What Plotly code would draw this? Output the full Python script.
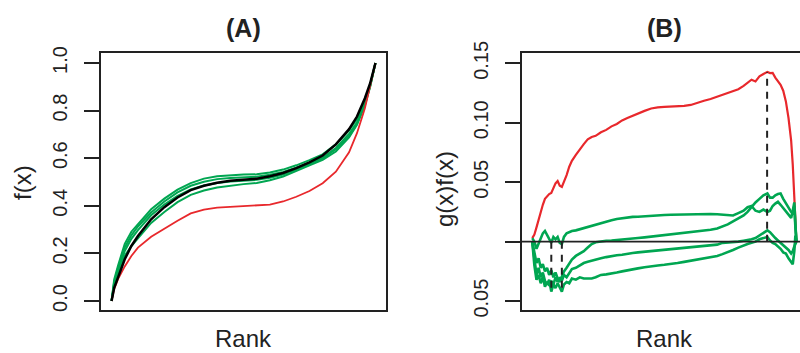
import plotly.graph_objects as go

# ---------------- data: panel (A) ----------------
rank_a = [0, 10, 25, 50, 75, 100, 150, 200, 250, 300, 350, 400, 450, 500, 550,
          600, 650, 700, 750, 800, 850, 900, 930, 960, 980, 1000]
black_a = [0, 0.055, 0.100, 0.175, 0.231, 0.273, 0.343, 0.394, 0.435, 0.466, 0.484,
           0.497, 0.505, 0.510, 0.514, 0.524, 0.538, 0.558, 0.582, 0.611, 0.658,
           0.722, 0.775, 0.852, 0.915, 1.0]
red_a = [0, 0.050, 0.093, 0.145, 0.189, 0.224, 0.270, 0.305, 0.337, 0.368, 0.384,
         0.392, 0.396, 0.399, 0.401, 0.405, 0.418, 0.438, 0.462, 0.495, 0.543,
         0.625, 0.705, 0.810, 0.905, 1.0]
green1_a = [0, 0.090, 0.150, 0.240, 0.291, 0.323, 0.385, 0.430, 0.468, 0.495, 0.514,
            0.524, 0.529, 0.531, 0.532, 0.540, 0.552, 0.570, 0.592, 0.616, 0.658,
            0.717, 0.765, 0.842, 0.910, 1.0]
green2_a = [0, 0.080, 0.140, 0.225, 0.276, 0.313, 0.372, 0.418, 0.456, 0.484, 0.501,
            0.512, 0.517, 0.520, 0.522, 0.530, 0.542, 0.560, 0.582, 0.603, 0.643,
            0.702, 0.750, 0.832, 0.905, 1.0]
green3_a = [0, 0.070, 0.125, 0.210, 0.261, 0.298, 0.360, 0.405, 0.442, 0.469, 0.485,
            0.496, 0.502, 0.506, 0.509, 0.518, 0.531, 0.552, 0.577, 0.599, 0.638,
            0.692, 0.745, 0.827, 0.903, 1.0]
green4_a = [0, 0.065, 0.115, 0.190, 0.231, 0.263, 0.328, 0.374, 0.415, 0.446, 0.464,
            0.477, 0.485, 0.491, 0.496, 0.507, 0.523, 0.545, 0.570, 0.593, 0.628,
            0.687, 0.740, 0.822, 0.900, 1.0]

# ---------------- data: panel (B) ----------------
rank_b = [0, 8, 16, 24, 32, 40, 48, 56, 64, 72,
          80, 88, 96, 104, 112, 120, 130, 140, 150, 165,
          180, 195, 210, 225, 240, 260, 280, 300, 320, 340,
          360, 380, 400, 425, 450, 475, 500, 525, 550, 575,
          600, 625, 650, 675, 700, 720, 740, 760, 780, 800,
          815, 830, 845, 860, 875, 890, 900, 910, 920, 930,
          940, 950, 960, 970, 980, 986, 992, 996, 1000]
red_b = [0.003, 0.006, 0.012, 0.019, 0.024, 0.031, 0.036, 0.038, 0.040, 0.041,
         0.045, 0.049, 0.051, 0.047, 0.046, 0.050, 0.056, 0.063, 0.068, 0.073,
         0.078, 0.082, 0.086, 0.088, 0.089, 0.092, 0.094, 0.097, 0.099, 0.102,
         0.104, 0.106, 0.108, 0.110, 0.112, 0.113, 0.1133, 0.1135, 0.1137, 0.1142,
         0.115, 0.117, 0.1185, 0.1200, 0.1220, 0.1235, 0.1250, 0.1268, 0.1282, 0.1310,
         0.1340, 0.1362, 0.1348, 0.1390, 0.1410, 0.1428, 0.1418, 0.1420, 0.1380, 0.1345,
         0.1320, 0.1270, 0.1180, 0.1040, 0.0850, 0.0650, 0.0400, 0.0200, 0.0]
green1_b = [0.003, 0.000, -0.006, -0.002, 0.003, 0.007, 0.009, 0.006, 0.003, -0.001,
            0.004, 0.002, 0.004, -0.001, -0.002, 0.004, 0.007, 0.008, 0.009, 0.0095,
            0.0105, 0.011, 0.012, 0.013, 0.014, 0.0155, 0.0167, 0.018, 0.019, 0.0198,
            0.0203, 0.0208, 0.021, 0.0215, 0.022, 0.0222, 0.0224, 0.0226, 0.0228, 0.0228,
            0.023, 0.0232, 0.023, 0.0232, 0.023, 0.0225, 0.022, 0.022, 0.024, 0.026,
            0.029, 0.030, 0.026, 0.025, 0.027, 0.025, 0.026, 0.030, 0.032, 0.0335,
            0.031, 0.028, 0.025, 0.023, 0.020, 0.026, 0.033, 0.015, 0.0]
green2_b = [0.0, -0.010, -0.018, -0.014, -0.022, -0.019, -0.025, -0.022, -0.028, -0.024,
            -0.030, -0.026, -0.031, -0.034, -0.029, -0.025, -0.022, -0.018, -0.015, -0.012,
            -0.010, -0.008, -0.005, -0.002, -0.0005, 0.0003, 0.0008, 0.001, 0.0013, 0.0018,
            0.0022, 0.0026, 0.003, 0.0036, 0.0042, 0.005, 0.0058, 0.0065, 0.007, 0.0075,
            0.008, 0.0085, 0.009, 0.010, 0.011, 0.0125, 0.0145, 0.017, 0.0195, 0.022,
            0.025, 0.029, 0.033, 0.036, 0.039, 0.0405, 0.037, 0.037, 0.039, 0.040,
            0.0405, 0.036, 0.032, 0.029, 0.025, 0.024, 0.030, 0.012, 0.0]
green3_b = [0.0, -0.015, -0.028, -0.022, -0.030, -0.026, -0.033, -0.036, -0.032, -0.042,
            -0.035, -0.030, -0.034, -0.030, -0.033, -0.028, -0.030, -0.027, -0.023, -0.022,
            -0.020, -0.018, -0.017, -0.016, -0.015, -0.014, -0.013, -0.012, -0.0115, -0.011,
            -0.010, -0.0095, -0.009, -0.0085, -0.008, -0.007, -0.0065, -0.006, -0.0055, -0.005,
            -0.0045, -0.004, -0.0035, -0.003, -0.0025, -0.001, -0.0008, -0.0003, 0.0, 0.0008,
            0.0013, 0.002, 0.003, 0.005, 0.007, 0.0095, 0.008, 0.005, 0.003, 0.001,
            -0.001, -0.003, -0.005, -0.007, -0.010, -0.008, -0.004, -0.002, 0.0]
green4_b = [0.0, -0.020, -0.032, -0.028, -0.035, -0.030, -0.038, -0.034, -0.037, -0.033,
            -0.036, -0.039, -0.035, -0.038, -0.042, -0.036, -0.034, -0.035, -0.031, -0.032,
            -0.030, -0.031, -0.031, -0.031, -0.030, -0.028, -0.0275, -0.027, -0.026, -0.025,
            -0.024, -0.023, -0.0225, -0.0215, -0.0205, -0.020, -0.0195, -0.019, -0.018, -0.017,
            -0.016, -0.015, -0.014, -0.013, -0.012, -0.0105, -0.009, -0.007, -0.005, -0.003,
            -0.002, -0.001, 0.0, 0.002, 0.003, 0.004, 0.001, -0.001, -0.002, -0.004,
            -0.006, -0.009, -0.010, -0.014, -0.017, -0.019, -0.008, 0.005, 0.0]

# dashed "maximum deviation" segments in (B)
dash_rank = [72, 112, 889]
dash_from = [0.0, 0.0, 0.0]
dash_to = [-0.042, -0.042, 0.1428]

ticks_a = [0.0, 0.2, 0.4, 0.6, 0.8, 1.0]
ticklabels_a = ["0.0", "0.2", "0.4", "0.6", "0.8", "1.0"]
ticks_b = [-0.05, 0.0, 0.05, 0.10, 0.15]
ticklabels_b = ["0.05", "", "0.05", "0.10", "0.15"]

RED = "#E8282C"
GREEN = "#00A651"
INK = "#222222"
FONT = "Liberation Sans, Arial, sans-serif"
W, H = 800, 353

fig = go.Figure()

# panel A
for g in [green1_a, green2_a, green3_a, green4_a]:
    fig.add_trace(go.Scatter(x=rank_a, y=g, mode="lines", line=dict(color=GREEN, width=2),
                             xaxis="x", yaxis="y", hoverinfo="skip"))
fig.add_trace(go.Scatter(x=rank_a, y=red_a, mode="lines", line=dict(color=RED, width=1.8),
                         xaxis="x", yaxis="y", hoverinfo="skip"))
fig.add_trace(go.Scatter(x=rank_a, y=black_a, mode="lines", line=dict(color="black", width=2.5),
                         xaxis="x", yaxis="y", hoverinfo="skip"))

# panel B
fig.add_trace(go.Scatter(x=rank_b, y=red_b, mode="lines", line=dict(color=RED, width=2.2),
                         xaxis="x2", yaxis="y2", hoverinfo="skip"))
for g in [green1_b, green2_b, green3_b, green4_b]:
    fig.add_trace(go.Scatter(x=rank_b, y=g, mode="lines", line=dict(color=GREEN, width=2.6),
                             xaxis="x2", yaxis="y2", hoverinfo="skip"))
dx, dy = [], []
for r, a, b in zip(dash_rank, dash_from, dash_to):
    dx += [r, r, None]
    dy += [a, b, None]
fig.add_trace(go.Scatter(x=dx, y=dy, mode="lines", line=dict(color=INK, width=2, dash="7px,6px"),
                         xaxis="x2", yaxis="y2", hoverinfo="skip"))

# zero line (B)
fig.add_shape(type="line", xref="x2 domain", yref="y2", x0=0, x1=1, y0=0, y1=0,
              line=dict(color=INK, width=1.6), layer="above")

ydom = [1 - 310 / H, 1 - 53 / H]
common_x = dict(showticklabels=False, ticks="", showgrid=False, zeroline=False, automargin=False,
                showline=True, mirror=True, linecolor=INK, linewidth=1.6)
common_y = dict(tickangle=-90, ticks="outside", ticklen=15, tickwidth=1.6, tickcolor=INK,
                ticklabelstandoff=9,
                showgrid=False, zeroline=False, showline=True, linecolor=INK, linewidth=1.6,
                automargin=False, tickfont=dict(family=FONT, size=20, color=INK))

fig.update_layout(
    template="none",
    width=W, height=H, margin=dict(l=0, r=0, t=0, b=0, pad=0, autoexpand=False),
    paper_bgcolor="white", plot_bgcolor="white", showlegend=False,
    xaxis=dict(domain=[101 / W, 386 / W], range=[-40, 1040], anchor="y", **common_x),
    yaxis=dict(domain=ydom, range=[-0.038, 1.042], anchor="x", mirror=True,
               tickvals=ticks_a, ticktext=ticklabels_a, **common_y),
    xaxis2=dict(domain=[521.7 / W, 1.0], range=[-40, 1013.5], anchor="y2", **common_x),
    yaxis2=dict(domain=ydom, range=[-0.0575, 0.1587], anchor="x2", mirror=False,
                tickvals=ticks_b, ticktext=ticklabels_b, **common_y),
)

def ann(text, x, y, size, bold=False, angle=0, yanchor="middle"):
    fig.add_annotation(text=f"<b>{text}</b>" if bold else text, xref="paper", yref="paper",
                       x=x / W, y=1 - y / H, xanchor="center", yanchor=yanchor,
                       showarrow=False, textangle=angle, borderpad=0,
                       font=dict(family=FONT, size=size, color=INK))

ann("(A)", 243.5, 28, 25, bold=True)
ann("(B)", 664, 28, 25, bold=True)
ann("Rank", 243.5, 353, 24, yanchor="bottom")
ann("Rank", 664, 353, 24, yanchor="bottom")
ann("f(x)", 22, 183, 24, angle=-90)
ann("g(x)f(x)", 444, 189, 24, angle=-90)

fig.write_html("out.html")
